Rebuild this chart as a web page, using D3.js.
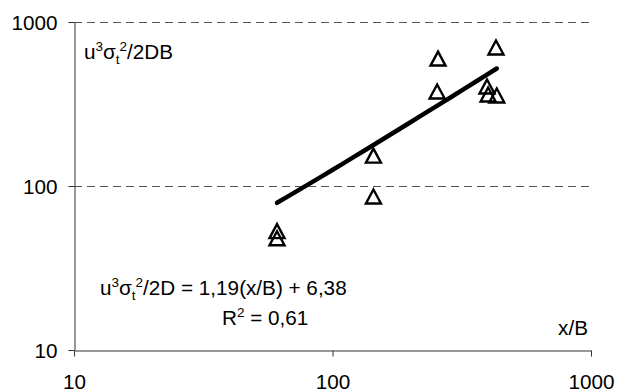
<!DOCTYPE html>
<html>
<head>
<meta charset="utf-8">
<script src="https://cdn.jsdelivr.net/npm/d3@7"></script>
<style>
  body { margin: 0; background: #fff; }
  svg { display: block; font-family: "Liberation Sans", Arial, sans-serif; }
</style>
</head>
<body>
<div id="chart"></div>
<script>
// x/B values and u^3 sigma_t^2 / 2DB values
const xValues = [61, 61, 144, 144, 256, 254, 429, 396, 400, 432];
const yValues = [52, 47, 150, 84.5, 586, 369, 684, 396, 354, 349];
const xTicks = [10, 100, 1000];
const yTicks = [10, 100, 1000];
const gridValues = [100, 1000];
// trend line: y = 1.19 x + 6.38, drawn over the data range
const trendSlope = 1.19;
const trendIntercept = 6.38;

const width = 617, height = 392;
const margin = { top: 22, right: 26, bottom: 42, left: 74 };
const fontSize = '20.7px';

const svg = d3.select('#chart').append('svg')
  .attr('width', width)
  .attr('height', height);

const x = d3.scaleLog().domain([10, 1000]).range([margin.left, width - margin.right]);
const y = d3.scaleLog().domain([10, 1000]).range([height - margin.bottom, margin.top]);

// dashed gridlines
svg.append('g')
  .selectAll('line')
  .data(gridValues)
  .join('line')
  .attr('x1', x(10))
  .attr('x2', x(1000))
  .attr('y1', d => Math.round(y(d)) + 0.5)
  .attr('y2', d => Math.round(y(d)) + 0.5)
  .attr('stroke', '#555')
  .attr('stroke-width', 1)
  .attr('stroke-dasharray', '8,5');

// x axis
const xAxis = svg.append('g')
  .attr('transform', 'translate(0,' + (Math.round(y(10)) + 0.5) + ')')
  .call(d3.axisBottom(x).tickValues(xTicks).tickFormat(d3.format('d')).tickSize(6).tickSizeOuter(0));
xAxis.select('.domain').attr('stroke', '#333');
xAxis.selectAll('.tick line').attr('stroke', '#333');
xAxis.selectAll('.tick text')
  .attr('y', 38)
  .attr('dy', 0)
  .attr('fill', '#000')
  .style('font-size', fontSize)
  .style('font-family', '"Liberation Sans", Arial, sans-serif');

// y axis
const yAxis = svg.append('g')
  .attr('transform', 'translate(' + (Math.round(x(10)) + 0.5) + ',0)')
  .call(d3.axisLeft(y).tickValues(yTicks).tickFormat(d3.format('d')).tickSize(6).tickSizeOuter(0));
yAxis.select('.domain').attr('stroke', '#333');
yAxis.selectAll('.tick line').attr('stroke', '#333');
yAxis.selectAll('.tick text')
  .attr('x', -17)
  .attr('dy', '0.35em')
  .attr('fill', '#000')
  .style('font-size', fontSize)
  .style('font-family', '"Liberation Sans", Arial, sans-serif');

// trend line
const xMin = d3.min(xValues), xMax = d3.max(xValues);
const trendPts = d3.range(0, 21).map(i => {
  const xv = xMin * Math.pow(xMax / xMin, i / 20);
  return [xv, trendSlope * xv + trendIntercept];
});
svg.append('path')
  .datum(trendPts)
  .attr('fill', 'none')
  .attr('stroke', '#000')
  .attr('stroke-width', 4.5)
  .attr('stroke-linecap', 'round')
  .attr('d', d3.line().x(d => x(d[0])).y(d => y(d[1])));

// triangle markers
const tri = 'M0,-8.5L7.5,5.5L-7.5,5.5Z';
svg.append('g')
  .selectAll('path')
  .data(xValues.map((d, i) => [d, yValues[i]]))
  .join('path')
  .attr('transform', d => 'translate(' + x(d[0]) + ',' + y(d[1]) + ')')
  .attr('d', tri)
  .attr('fill', 'none')
  .attr('stroke', '#000')
  .attr('stroke-width', 2.4)
  .attr('stroke-linejoin', 'miter');

// text helper for labels with super/subscripts
function richText(xPos, yPos, parts, anchor) {
  const t = svg.append('text')
    .attr('x', xPos)
    .attr('y', yPos)
    .attr('text-anchor', anchor || 'start')
    .style('font-size', fontSize)
    .attr('fill', '#000');
  let shift = 0;
  parts.forEach(p => {
    const target = p.sup ? -8 : p.sub ? 5 : 0;
    t.append('tspan')
      .attr('dy', target - shift)
      .style('font-size', (p.sup || p.sub) ? '13.5px' : fontSize)
      .text(p.t);
    shift = target;
  });
  return t;
}

// y axis title (inside the plot)
richText(84, 59, [
  { t: 'u' }, { t: '3', sup: true }, { t: 'σ' }, { t: 't', sub: true },
  { t: '2', sup: true }, { t: '/2DB' }
]);

// equation and R²
richText(100, 295, [
  { t: 'u' }, { t: '3', sup: true }, { t: 'σ' }, { t: 't', sub: true },
  { t: '2', sup: true }, { t: '/2D = 1,19(x/B) + 6,38' }
]);
richText(222, 325, [
  { t: 'R' }, { t: '2', sup: true }, { t: ' = 0,61' }
]);

// x axis title
svg.append('text')
  .attr('x', 588)
  .attr('y', 335)
  .attr('text-anchor', 'end')
  .style('font-size', fontSize)
  .attr('fill', '#000')
  .text('x/B');
</script>
</body>
</html>
